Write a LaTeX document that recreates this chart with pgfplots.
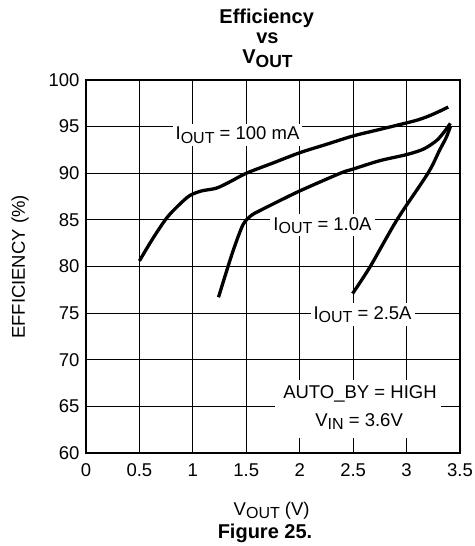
\documentclass[border=0pt]{standalone}
\usepackage{fontspec}
\setmainfont{Liberation Sans}
\usepackage{pgfplots}
\pgfplotsset{compat=1.18}
\newcommand{\nf}{\fontsize{18.5}{22}\selectfont}
\newcommand{\tf}{\fontsize{20}{24}\selectfont\bfseries}
\newcommand{\sub}[1]{\raisebox{-3.3pt}{\fontsize{16}{16}\selectfont #1}}
\newcommand{\bsub}[1]{\raisebox{-4.5pt}{\fontsize{17.5}{17.5}\selectfont\bfseries #1}}

\begin{document}
\begin{tikzpicture}
\path[use as bounding box] (-86pt,-93pt) rectangle (388pt,453pt);
\begin{axis}[
  at={(0pt,0pt)}, anchor=south west,
  scale only axis, width=374pt, height=373pt,
  xmin=0, xmax=3.5, ymin=60, ymax=100,
  xtick={0,0.5,...,3.5}, ytick={60,65,...,100},
  grid=major, major grid style={black, line width=1pt},
  axis line style={line width=2pt},
  major tick length=0pt,
  tick label style={font=\nf},
  /pgf/number format/assume math mode=true,
  xticklabel style={yshift=-7pt},
  yticklabel style={xshift=-3pt},
  clip=false,
]
\addplot[black, line width=3.3pt, smooth, tension=0.5] coordinates {
 (0.5,80.6) (0.62,82.9) (0.755,85.2) (0.87,86.6) (0.97,87.6) (1.08,88.1)
 (1.22,88.4) (1.35,89.1) (1.5,90.0) (1.75,91.1) (2.0,92.2) (2.25,93.1)
 (2.5,94.0) (2.75,94.7) (3.0,95.4) (3.1,95.7) (3.2,96.1) (3.3,96.6) (3.39,97.1) };
\addplot[black, line width=3.3pt, smooth, tension=0.5] coordinates {
 (1.24,76.7) (1.31,79.3) (1.38,81.8) (1.47,84.5) (1.55,85.5) (1.62,85.95)
 (1.75,86.7) (2.0,88.1) (2.38,90.0) (2.5,90.45) (2.75,91.35) (3.0,92.0)
 (3.16,92.6) (3.28,93.5) (3.35,94.4) (3.41,95.35) };
\addplot[black, line width=3.3pt, smooth, tension=0.5] coordinates {
 (2.495,77.1) (2.66,80.0) (2.91,85.0) (3.2,90.0) (3.31,92.5) (3.37,93.8) (3.41,95.0) };

\node[fill=white, inner xsep=3pt, inner ysep=3pt, anchor=base, font=\nf]
  at (axis cs:1.418,93.57) {I\sub{OUT} = 100 mA};
\node[fill=white, inner xsep=3pt, inner ysep=3pt, anchor=base, font=\nf]
  at (axis cs:2.213,83.91) {I\sub{OUT} = 1.0A};
\node[fill=white, inner xsep=3pt, inner ysep=3pt, anchor=base, font=\nf]
  at (axis cs:2.588,74.34) {I\sub{OUT} = 2.5A};
\node[fill=white, minimum width=166pt, minimum height=58pt, inner sep=0pt]
  at (axis cs:2.548,64.72) {};
\node[anchor=base, font=\nf, inner sep=0pt] at (axis cs:2.564,65.87) {AUTO\_BY = HIGH};
\node[anchor=base, font=\nf, inner sep=0pt] at (axis cs:2.556,62.83) {V\sub{IN} = 3.6V};
\end{axis}

\node[anchor=base, font=\tf, inner sep=0pt] at (180.7pt,429pt) {Efficiency};
\node[anchor=base, font=\tf, inner sep=0pt] at (181.5pt,409.5pt) {vs};
\node[anchor=base, font=\tf, inner sep=0pt] at (181.5pt,389.7pt) {V\bsub{OUT}};
\node[anchor=base, font=\nf, inner sep=0pt] at (185.7pt,-62pt) {V\sub{OUT} (V)};
\node[anchor=base, font=\tf, inner sep=0pt] at (179pt,-85.3pt) {Figure 25.};
\node[anchor=base, font=\nf, inner sep=0pt, rotate=90] at (-61pt,186pt) {EFFICIENCY (\%)};
\end{tikzpicture}
\end{document}
